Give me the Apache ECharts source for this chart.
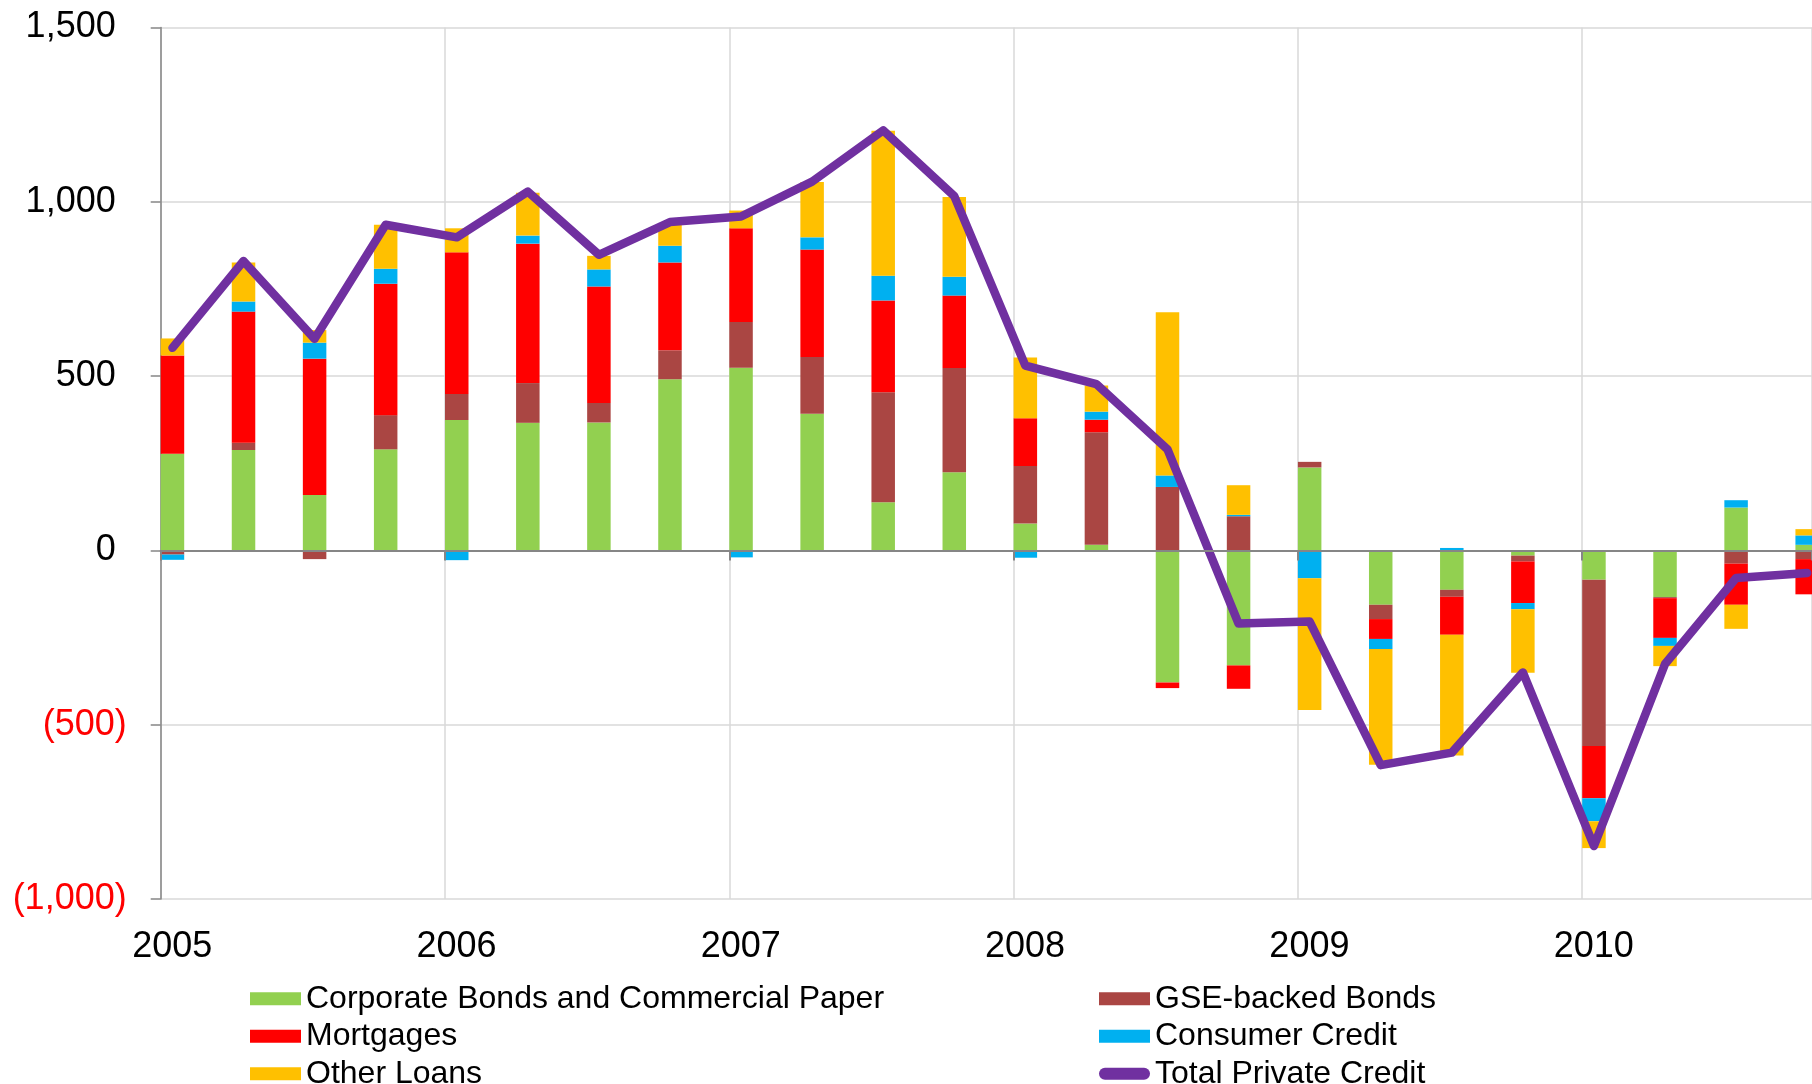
<!DOCTYPE html>
<html>
<head>
<meta charset="utf-8">
<script src="https://cdn.jsdelivr.net/npm/echarts@6/dist/echarts.min.js"></script>
<style>
  html, body { margin: 0; padding: 0; background: #ffffff; }
  #chart { width: 1812px; height: 1084px; }
</style>
</head>
<body>
<div id="chart"></div>
<script>
// Quarterly flows of private credit, by component (stacked bars) and in total (line)
const quarters = [
  '2005Q1','2005Q2','2005Q3','2005Q4',
  '2006Q1','2006Q2','2006Q3','2006Q4',
  '2007Q1','2007Q2','2007Q3','2007Q4',
  '2008Q1','2008Q2','2008Q3','2008Q4',
  '2009Q1','2009Q2','2009Q3','2009Q4',
  '2010Q1','2010Q2','2010Q3','2010Q4'
];
const corporateBonds = [277, 288, 159, 290, 374, 366, 367, 491, 524, 392, 138, 224, 77, 16, -379, -330, 238, -156, -113, -15, -84, -134, 123, 16];
const gseBonds       = [-12, 21, -25, 98, 75, 114, 56, 83, 131, 163, 316, 299, 165, 323, 182, 98, 16, -41, -20, -17, -477, -3, -38, -25];
const mortgages      = [282, 376, 391, 377, 406, 400, 334, 252, 269, 308, 263, 208, 137, 36, -16, -67, 0, -57, -109, -119, -150, -114, -118, -101];
const consumerCredit = [-15, 29, 46, 43, -28, 23, 49, 48, -20, 35, 71, 54, -21, 23, 33, 4, -80, -29, 7, -18, -66, -23, 21, 27];
const otherLoans     = [49, 112, 36, 126, 69, 123, 39, 62, 51, 159, 416, 229, 174, 75, 468, 85, -378, -332, -346, -182, -77, -58, -69, 18];
const totalCredit    = [581, 830, 607, 934, 898, 1029, 848, 942, 958, 1058, 1205, 1016, 530, 477, 290, -210, -204, -616, -580, -350, -848, -326, -79, -65];

const yearTicks = [2005, 2006, 2007, 2008, 2009, 2010];
const yTicks = { min: -1000, max: 1500, step: 500 };

const FONT = '"Liberation Sans", Arial, Helvetica, sans-serif';

// Plot frame (px)
const PLOT_LEFT = 160.7, PLOT_TOP = 27.5, PLOT_BOTTOM = 185;
const W = 1812;
const YEAR_PX = 284.3;                 // one year along the time axis
const QUARTER_PX = YEAR_PX / 4;
const BAR_WIDTH = 23.5;
// each bar starts at the beginning of its quarter
const firstBarCentre = PLOT_LEFT + BAR_WIDTH / 2;
const lastBarCentre = firstBarCentre + (quarters.length - 1) * QUARTER_PX;
const X_MIN = yearTicks[0];
const X_MAX = X_MIN + (W - PLOT_LEFT) / YEAR_PX;

function fmt(v) {
  return Math.abs(v).toLocaleString('en-US');
}

const barSeries = [
  { name: 'Corporate Bonds and Commercial Paper', values: corporateBonds, color: '#92D050' },
  { name: 'GSE-backed Bonds', values: gseBonds, color: '#AA4643' },
  { name: 'Mortgages', values: mortgages, color: '#FF0000' },
  { name: 'Consumer Credit', values: consumerCredit, color: '#00B0F0' },
  { name: 'Other Loans', values: otherLoans, color: '#FFC000' }
].map(s => ({
  name: s.name,
  type: 'bar',
  stack: 'credit',
  xAxisIndex: 2,
  yAxisIndex: 1,
  barWidth: BAR_WIDTH,
  clip: false,
  itemStyle: { color: s.color },
  emphasis: { disabled: true },
  data: s.values
}));

const lineSeries = {
  name: 'Total Private Credit',
  type: 'line',
  xAxisIndex: 2,
  yAxisIndex: 1,
  color: '#7030A0',
  showSymbol: false,
  symbol: 'none',
  clip: false,
  lineStyle: { color: '#7030A0', width: 8.5, join: 'round', cap: 'round' },
  z: 5,
  emphasis: { disabled: true },
  data: totalCredit
};

const legendText = { color: '#000000', fontSize: 32, fontFamily: FONT, lineHeight: 37.5 };
const legendBase = {
  orient: 'vertical',
  top: 980,
  height: 140,
  padding: 0,
  itemWidth: 51, itemHeight: 13, itemGap: 0,
  icon: 'rect',
  selectedMode: false,
  textStyle: legendText
};

const chart = echarts.init(document.getElementById('chart'), null, { renderer: 'canvas' });
chart.setOption({
  animation: false,
  backgroundColor: '#ffffff',
  textStyle: { fontFamily: FONT },
  grid: [
    // frame with axes, gridlines and labels
    { left: PLOT_LEFT, top: PLOT_TOP, right: 0, bottom: PLOT_BOTTOM },
    // quarterly band where the bars and the line sit
    { left: firstBarCentre, top: PLOT_TOP, right: W - lastBarCentre, bottom: PLOT_BOTTOM }
  ],
  xAxis: [
    {
      // axis line through zero with year ticks
      type: 'value', gridIndex: 0,
      min: X_MIN, max: X_MAX, interval: 1,
      z: 10,
      axisLine: { show: true, onZero: true, lineStyle: { color: '#868686', width: 2 } },
      axisTick: { show: true, length: 10, inside: false, lineStyle: { color: '#868686', width: 2 } },
      axisLabel: { show: false },
      splitLine: { show: false }
    },
    {
      // year labels along the bottom and vertical gridlines
      type: 'value', gridIndex: 0,
      position: 'bottom',
      min: X_MIN, max: X_MAX, interval: 1,
      axisLine: { show: false, onZero: false },
      axisTick: { show: false },
      splitLine: { show: true, lineStyle: { color: '#D9D9D9', width: 1.5 } },
      axisLabel: {
        show: true,
        margin: 30,
        color: '#000000',
        fontSize: 36,
        fontFamily: FONT,
        padding: [0, 0, 0, 23],
        formatter: v => (yearTicks.indexOf(Math.round(v)) >= 0 ? String(Math.round(v)) : ''),
        showMaxLabel: false
      }
    },
    {
      type: 'category', gridIndex: 1,
      data: quarters,
      boundaryGap: false,
      show: false,
      axisLine: { show: false }, axisTick: { show: false },
      axisLabel: { show: false }, splitLine: { show: false }
    }
  ],
  yAxis: [
    {
      type: 'value', gridIndex: 0,
      min: yTicks.min, max: yTicks.max, interval: yTicks.step,
      axisLine: { show: true, lineStyle: { color: '#868686', width: 1.5 } },
      axisTick: { show: true, length: 10, inside: false, lineStyle: { color: '#868686', width: 1.5 } },
      splitLine: { show: true, lineStyle: { color: '#D9D9D9', width: 1.5 } },
      axisLabel: {
        margin: 34,
        fontSize: 36,
        fontFamily: FONT,
        formatter: v => v < 0 ? '{neg|(' + fmt(v) + ')}' : '{pos|' + fmt(v) + '}',
        rich: {
          neg: { color: '#FF0000', fontSize: 36, fontFamily: FONT },
          pos: { color: '#000000', fontSize: 36, fontFamily: FONT, padding: [0, 11, 0, 0] }
        }
      }
    },
    {
      type: 'value', gridIndex: 1,
      min: yTicks.min, max: yTicks.max, interval: yTicks.step,
      show: false,
      axisLine: { show: false }, axisTick: { show: false },
      axisLabel: { show: false }, splitLine: { show: false }
    }
  ],
  legend: [
    Object.assign({}, legendBase, {
      left: 250,
      data: ['Corporate Bonds and Commercial Paper', 'Mortgages', 'Other Loans']
    }),
    Object.assign({}, legendBase, {
      left: 1099,
      data: [
        'GSE-backed Bonds',
        'Consumer Credit',
        { name: 'Total Private Credit', icon: 'path://M6,0 H45 A6,6 0 0 1 45,12 H6 A6,6 0 0 1 6,0 Z' }
      ]
    })
  ],
  series: barSeries.concat([lineSeries])
});
</script>
</body>
</html>
